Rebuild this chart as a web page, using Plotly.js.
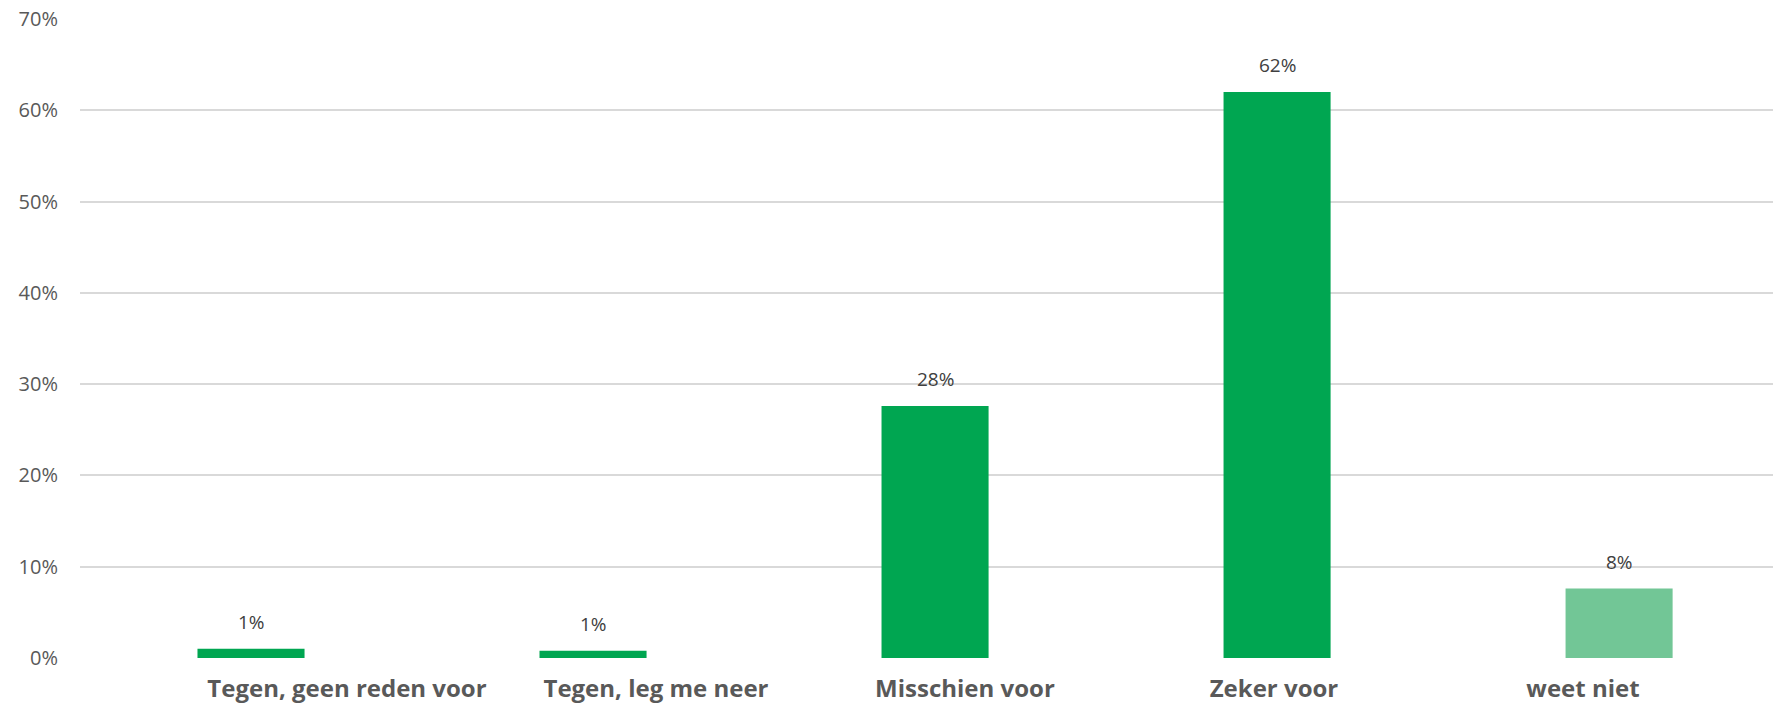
<!DOCTYPE html>
<html>
<head>
<meta charset="utf-8">
<script src="https://cdn.plot.ly/plotly-3.0.1.min.js"></script>
<style>html,body{margin:0;padding:0;background:#fff;}#chart{width:1776px;height:708px;}</style>
</head>
<body>
<div id="chart"></div>
<script>
const categories = ["Tegen, geen reden voor", "Tegen, leg me neer", "Misschien voor", "Zeker voor", "weet niet"];
const values = [1.0, 0.8, 27.6, 62.0, 7.6];
const labels = ["1%", "1%", "28%", "62%", "8%"];
const barColors = ["#00A651", "#00A651", "#00A651", "#00A651", "#72C696"];
const yTickVals = [0, 10, 20, 30, 40, 50, 60, 70];
const yTickText = ["0%", "10%", "20%", "30%", "40%", "50%", "60%", "70%"];

const barTrace = {
  type: "bar",
  x: categories,
  y: values,
  marker: {color: barColors},
  width: 0.313,
  hoverinfo: "none"
};

// invisible trace carrying the category labels on the label axis (offset like the original)
const labelTrace = {
  type: "scatter",
  mode: "markers",
  x: categories,
  y: values,
  xaxis: "x2",
  marker: {opacity: 0, size: 1},
  hoverinfo: "none",
  showlegend: false
};

const annotations = categories.map((c, i) => ({
  x: c, y: values[i], xref: "x", yref: "y",
  text: labels[i], showarrow: false,
  yanchor: "bottom", yshift: 12,
  font: {family: "Open Sans, sans-serif", size: 19, color: "#404040"}
}));

const layout = {
  width: 1776, height: 708,
  margin: {l: 80, r: 3, t: 19, b: 50},
  paper_bgcolor: "#ffffff", plot_bgcolor: "#ffffff",
  showlegend: false,
  xaxis: {
    type: "category",
    range: [-0.5, 4.45],
    showgrid: false, zeroline: false, showline: false,
    ticks: "", showticklabels: false
  },
  xaxis2: {
    type: "category",
    overlaying: "x", side: "bottom", anchor: "y",
    range: [-0.864, 4.615],
    showgrid: false, zeroline: false, showline: false,
    ticks: "",
    ticklabelstandoff: 14,
    tickfont: {family: "Open Sans, sans-serif", size: 24, color: "#595959", weight: "bold"}
  },
  yaxis: {
    range: [0, 70],
    tickvals: yTickVals, ticktext: yTickText,
    showgrid: true, gridcolor: "#D9D9D9", gridwidth: 2,
    zeroline: false, showline: false, ticks: "",
    ticklabelstandoff: 21,
    tickfont: {family: "Open Sans, sans-serif", size: 20, color: "#595959"}
  },
  annotations: annotations,
  bargap: 0.5
};

Plotly.newPlot("chart", [barTrace, labelTrace], layout, {displayModeBar: false, staticPlot: true});
</script>
</body>
</html>
